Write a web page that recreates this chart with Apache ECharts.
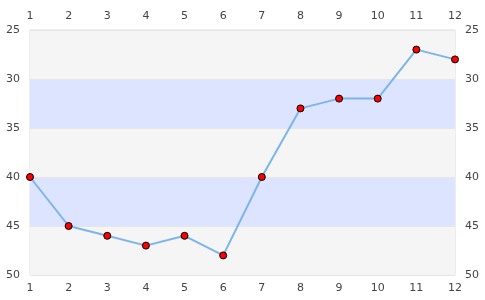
<!DOCTYPE html>
<html><head><meta charset="utf-8">
<script src="https://cdn.jsdelivr.net/npm/echarts@6/dist/echarts.min.js"></script>
<style>html,body{margin:0;padding:0;background:#fff}#c{width:485px;height:300px}</style>
</head><body><div id="c"></div>
<script>
var categories = ['1','2','3','4','5','6','7','8','9','10','11','12'];
var values = [40,45,46,47,46,48,40,33,32,32,27,28];
var yMin = 25, yMax = 50, yStep = 5;

var chart = echarts.init(document.getElementById('c'), null, {renderer:'canvas'});
var labelStyle = {color:'#444', fontFamily:'DejaVu Sans', fontSize:11};
function xa(pos){
  return {type:'category', data:categories, position:pos, boundaryGap:false,
    axisLine:{show:false}, axisTick:{show:false}, splitLine:{show:false},
    axisLabel:Object.assign({margin:8}, labelStyle)};
}
function ya(pos, area){
  return {type:'value', position:pos, inverse:true, min:yMin, max:yMax, interval:yStep,
    axisLine:{show:false}, axisTick:{show:false},
    splitLine:{show:area, lineStyle:{color:'#e6e6e6'}},
    splitArea:{show:area, areaStyle:{color:['#f5f5f5','#dde4ff']}},
    axisLabel:Object.assign({margin:10}, labelStyle)};
}
chart.setOption({
  animation:false,
  grid:{left:30, right:30, top:30, bottom:25, show:true, borderColor:'#dcdcdc', borderWidth:1, backgroundColor:'transparent'},
  xAxis:[xa('bottom'), xa('top')],
  yAxis:[ya('left', true), ya('right', false)],
  series:[{type:'line', data:values, xAxisIndex:0, yAxisIndex:0,
    lineStyle:{color:'#7cb5ec', width:2},
    symbol:'circle', symbolSize:7,
    itemStyle:{color:'#ff0000', borderColor:'#000', borderWidth:1}}]
});
</script></body></html>
